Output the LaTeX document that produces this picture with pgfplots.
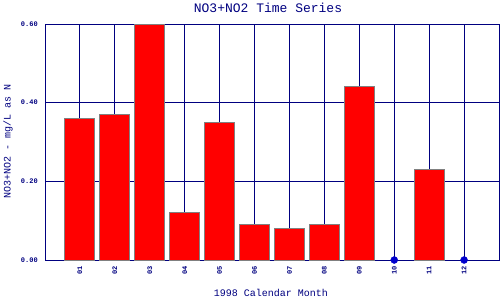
\documentclass[border=0pt]{standalone}
\usepackage{pgfplots}
\pgfplotsset{compat=1.18}
\usepackage{fontspec}
\setmonofont{Liberation Mono}
\definecolor{navy}{RGB}{0,0,128}
\definecolor{dotblue}{RGB}{0,0,205}
\definecolor{edgegray}{RGB}{128,128,128}
\begin{document}
\begin{tikzpicture}[x=1pt,y=1pt]
\useasboundingbox (0,0) rectangle (500,300);
\begin{axis}[
  at={(45pt,40pt)}, anchor=south west,
  scale only axis, width=454pt, height=236pt,
  xmin=0, xmax=13, ymin=0, ymax=0.6,
  xtick={1,...,12},
  xticklabels={01,02,03,04,05,06,07,08,09,10,11,12},
  ytick={0,0.2,0.4,0.6},
  yticklabel style={/pgf/number format/fixed,/pgf/number format/fixed zerofill,/pgf/number format/precision=2},
  /pgf/number format/assume math mode=true,
  xticklabel style={rotate=90, anchor=east, font=\ttfamily\bfseries\fontsize{7}{8}\selectfont, text=navy, inner sep=0pt, xshift=-6pt},
  yticklabel style={font=\ttfamily\bfseries\fontsize{7}{8}\selectfont, text=navy, inner sep=0pt, xshift=-7pt},
  major tick length=0pt,
  axis line style={navy, line width=1pt},
  grid=major,
  major grid style={navy, line width=1pt},
  clip=false,
]
\addplot[ybar, bar width=30pt, fill=red, draw=edgegray, line width=1pt] coordinates {
  (1,0.36) (2,0.37) (3,0.60) (4,0.12) (5,0.35) (6,0.09) (7,0.08) (8,0.09) (9,0.44) (11,0.23)
};
\addplot[only marks, mark=*, mark size=3.5pt, color=dotblue] coordinates {
  (10,0) (12,0)
};
\end{axis}
\node[font=\ttfamily\fontsize{13}{14}\selectfont, text=navy, inner sep=0pt, anchor=center] at (268,292) {NO3+NO2 Time Series};
\node[font=\ttfamily\fontsize{10}{12}\selectfont, text=navy, inner sep=0pt, anchor=center] at (271,7) {1998 Calendar Month};
\node[font=\ttfamily\fontsize{10}{12}\selectfont, text=navy, inner sep=0pt, anchor=center, rotate=90] at (8,159) {NO3+NO2 - mg/L as N};
\end{tikzpicture}
\end{document}
